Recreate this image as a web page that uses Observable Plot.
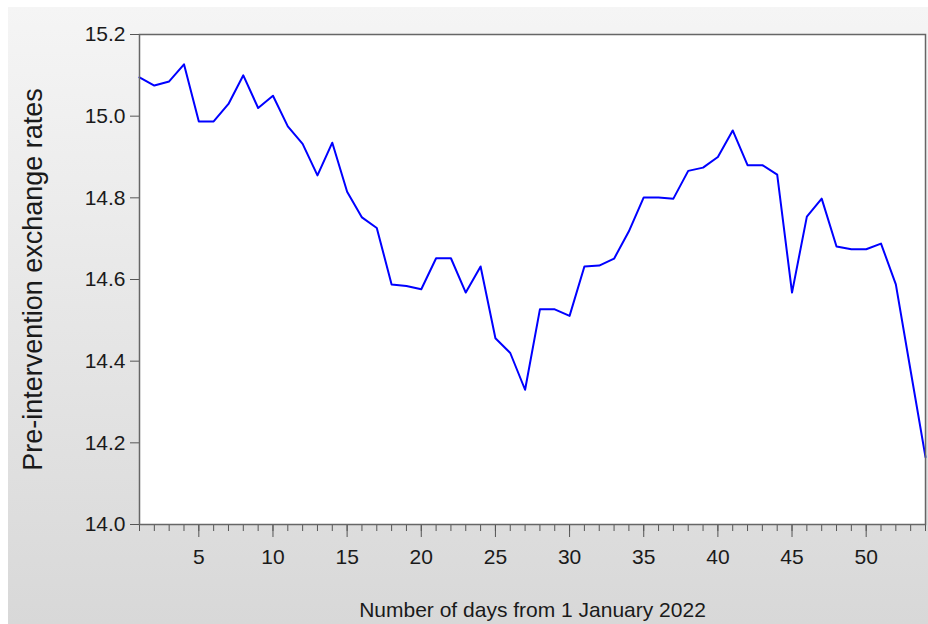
<!DOCTYPE html>
<html>
<head>
<meta charset="utf-8">
<script src="https://cdn.jsdelivr.net/npm/d3@7"></script>
<script src="https://cdn.jsdelivr.net/npm/@observablehq/plot@0.6"></script>
<style>
  html, body { margin: 0; padding: 0; background: #ffffff; }
  #chart svg {
    background: linear-gradient(#f5f5f5, #d8d8d8) no-repeat 8px 7px / calc(100% - 8px) calc(100% - 7px) !important;
  }
  #chart g[aria-label="x-axis label"] text { font-size: 21px; }
  #chart g[aria-label="y-axis label"] text { font-size: 27px; }
</style>
</head>
<body>
<div id="chart"></div>
<script>
const days = d3.range(1, 55);
const rates = [
  15.095, 15.075, 15.085, 15.127, 14.987, 14.987, 15.030, 15.100, 15.020, 15.050,
  14.975, 14.932, 14.855, 14.935, 14.815, 14.752, 14.726, 14.588, 14.584, 14.576,
  14.652, 14.652, 14.568, 14.632, 14.456, 14.420, 14.330, 14.527, 14.527, 14.511,
  14.632, 14.634, 14.651, 14.718, 14.801, 14.801, 14.798, 14.866, 14.874, 14.900,
  14.965, 14.880, 14.880, 14.857, 14.568, 14.754, 14.798, 14.681, 14.674, 14.674,
  14.688, 14.588, 14.376, 14.165
];
const xMajorTicks = [5, 10, 15, 20, 25, 30, 35, 40, 45, 50];
const yTicks = [14.0, 14.2, 14.4, 14.6, 14.8, 15.0, 15.2];
const xLabel = "Number of days from 1 January 2022";
const yLabel = "Pre-intervention exchange rates";

const data = days.map((d, i) => ({day: d, rate: rates[i]}));

const chart = Plot.plot({
  width: 928,
  height: 624,
  marginLeft: 139,
  marginRight: 3,
  marginTop: 34,
  marginBottom: 100,
  style: {fontFamily: "'Liberation Sans', Arial, sans-serif", fontSize: "21px", color: "#1a1a1a"},
  x: {domain: [1, 54]},
  y: {domain: [14.0, 15.2]},
  marks: [
    Plot.frame({fill: "white", stroke: null}),
    Plot.axisX({ticks: days, tickSize: 7, tickFormat: () => "", label: null, stroke: "#555"}),
    Plot.axisX({ticks: xMajorTicks, tickSize: 13, tickPadding: 12, tickFormat: d => String(d),
      label: xLabel, labelAnchor: "center", labelArrow: "none", labelOffset: 92, stroke: "#555"}),
    Plot.axisY({ticks: yTicks, tickSize: 9, tickPadding: 5, tickFormat: d3.format(".1f"),
      label: yLabel, labelAnchor: "center", labelArrow: "none", labelOffset: 117, stroke: "#555"}),
    Plot.lineY(data, {x: "day", y: "rate", stroke: "#0000ff", strokeWidth: 2}),
    Plot.frame({stroke: "#666", strokeWidth: 1.5})
  ]
});
document.getElementById("chart").append(chart);
</script>
</body>
</html>
